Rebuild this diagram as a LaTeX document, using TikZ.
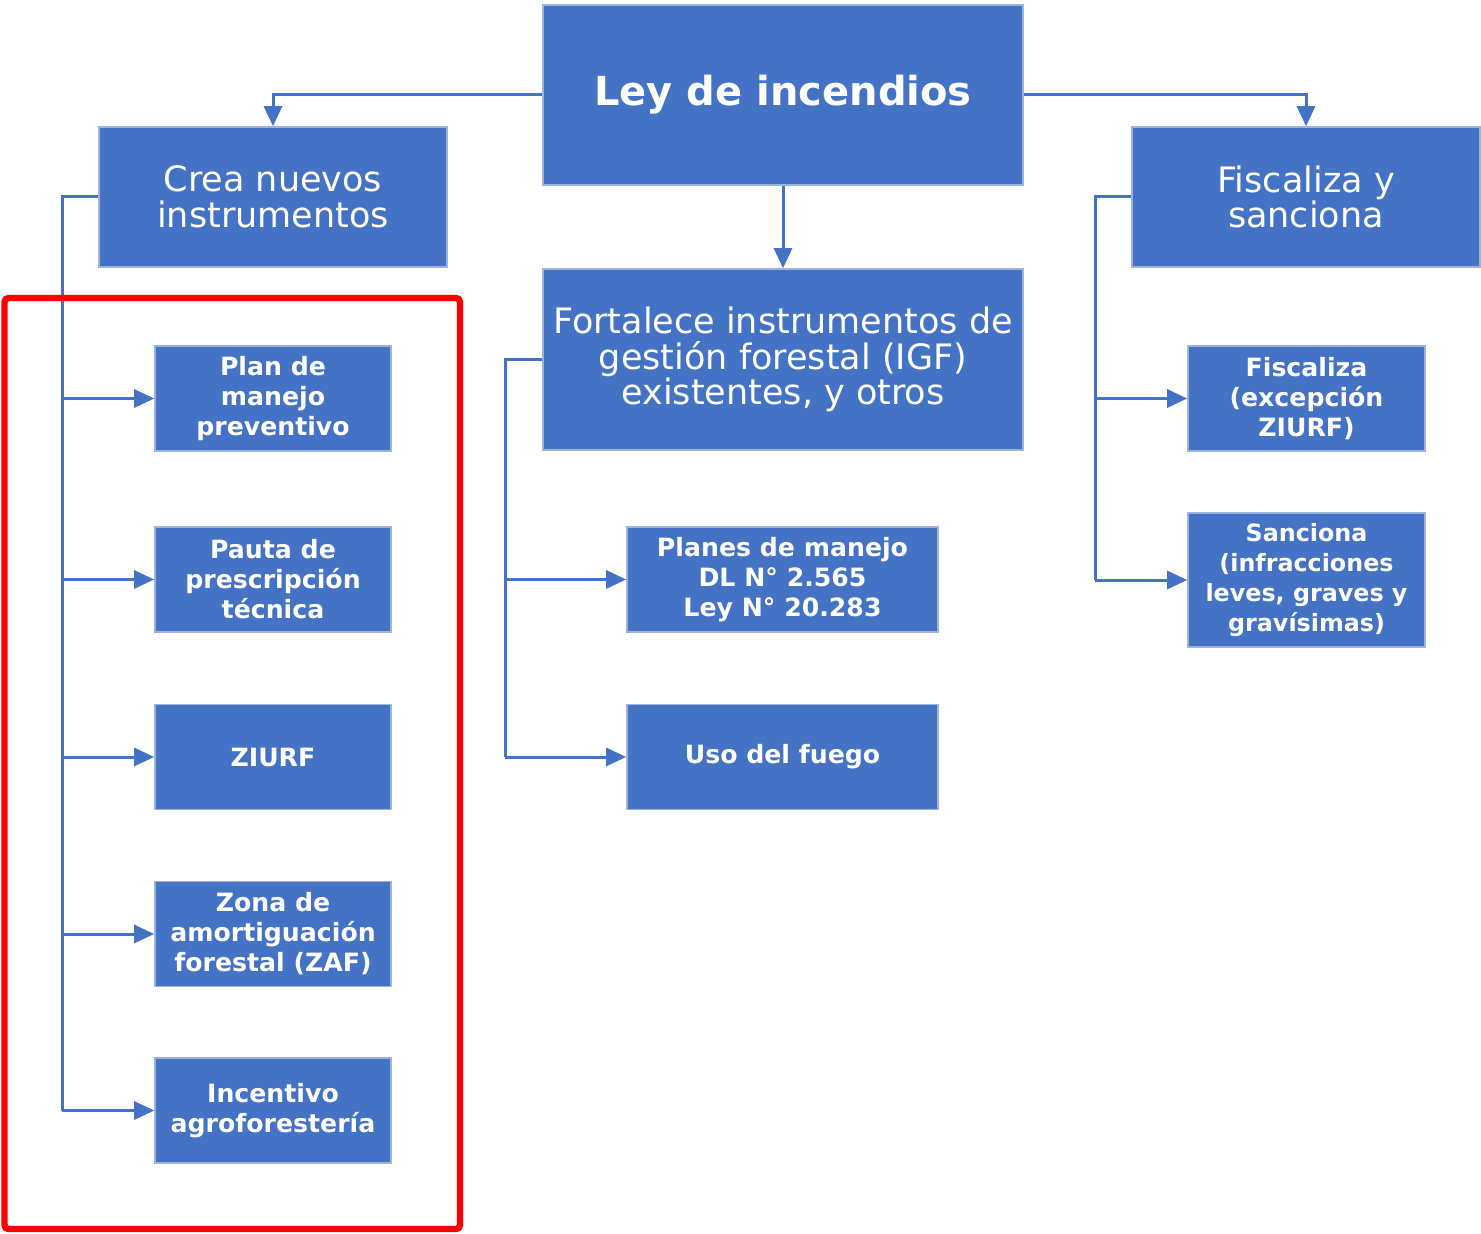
\documentclass[tikz,border=0pt]{standalone}
\usepackage{fontspec}
\setmainfont{DejaVu Sans}
\usetikzlibrary{arrows.meta}
\definecolor{bxblue}{HTML}{4472C4}
\definecolor{bxedge}{HTML}{9DB3DE}
\begin{document}
\begin{tikzpicture}[x=0.5pt,y=-0.5pt,
  box/.style={fill=bxblue,draw=bxedge,line width=0.8pt,text=white,align=center,inner sep=0pt},
  bigtxt/.style={font=\fontsize{17.5}{17.8}\selectfont},
  smalltxt/.style={font=\fontsize{12.6}{15}\selectfont\bfseries},
  conn/.style={draw=bxblue,line width=1.5pt},
  arr/.style={conn,-{Triangle[length=10pt,width=9pt]}}]
\useasboundingbox (0,0) rectangle (1481,1234);
% main boxes
\node[box,minimum width=240pt,minimum height=90pt,font=\fontsize{20}{24}\selectfont\bfseries] (ley) at (783,95) {Ley de incendios};
\node[box,bigtxt,minimum width=174pt,minimum height=70pt] (crea) at (273,197) {Crea nuevos\\instrumentos};
\node[box,bigtxt,minimum width=174pt,minimum height=70pt] (fis) at (1306,197) {Fiscaliza y\\sanciona};
\node[box,bigtxt,minimum width=240pt,minimum height=90.5pt] (fort) at (783,359.5) {Fortalece instrumentos de\\gestión forestal (IGF)\\existentes, y otros};
% left column
\node[box,smalltxt,minimum width=118pt,minimum height=52.5pt] (plan) at (273,398.5) {Plan de\\manejo\\preventivo};
\node[box,smalltxt,minimum width=118pt,minimum height=52.5pt] (pauta) at (273,579.5) {Pauta de\\prescripción\\técnica};
\node[box,smalltxt,minimum width=118pt,minimum height=52.5pt] (ziurf) at (273,757) {ZIURF};
\node[box,smalltxt,minimum width=118pt,minimum height=52.5pt] (zona) at (273,934) {Zona de\\amortiguación\\forestal (ZAF)};
\node[box,smalltxt,minimum width=118pt,minimum height=52.5pt] (incent) at (273,1110.5) {Incentivo\\agroforestería};
% middle column
\node[box,smalltxt,minimum width=155.5pt,minimum height=52.5pt] (planes) at (782.5,579.5) {Planes de manejo\\DL N° 2.565\\Ley N° 20.283};
\node[box,smalltxt,minimum width=155.5pt,minimum height=52.5pt] (uso) at (782.5,757) {Uso del fuego};
% right column
\node[box,smalltxt,minimum width=118.5pt,minimum height=52.5pt] (fisc) at (1306.5,398.5) {Fiscaliza\\(excepción\\ZIURF)};
\node[box,minimum width=118.5pt,minimum height=67pt,font=\fontsize{11.9}{15}\selectfont\bfseries] (sanc) at (1306.5,580) {Sanciona\\(infracciones\\leves, graves y\\gravísimas)};
% top connectors
\draw[arr] (ley.west) -| (crea.north);
\draw[arr] (ley.east) -| (fis.north);
\draw[arr] (ley.south) -- (fort.north);
% left trunk
\coordinate (lt) at (62,1110.5);
\draw[conn] (crea.west) -| (lt);
\foreach \n in {plan,pauta,ziurf,zona,incent} \draw[arr] (lt |- \n.west) -- (\n.west);
% middle trunk
\coordinate (mt) at (505,757);
\draw[conn] (fort.west) -| (mt);
\foreach \n in {planes,uso} \draw[arr] (mt |- \n.west) -- (\n.west);
% right trunk
\coordinate (rt) at (1095,580);
\draw[conn] (fis.west) -| (rt);
\foreach \n in {fisc,sanc} \draw[arr] (rt |- \n.west) -- (\n.west);
% red highlight frame
\draw[red,line width=3.2pt,rounded corners=2pt] (4.5,298) rectangle (460,1229);
\end{tikzpicture}
\end{document}
